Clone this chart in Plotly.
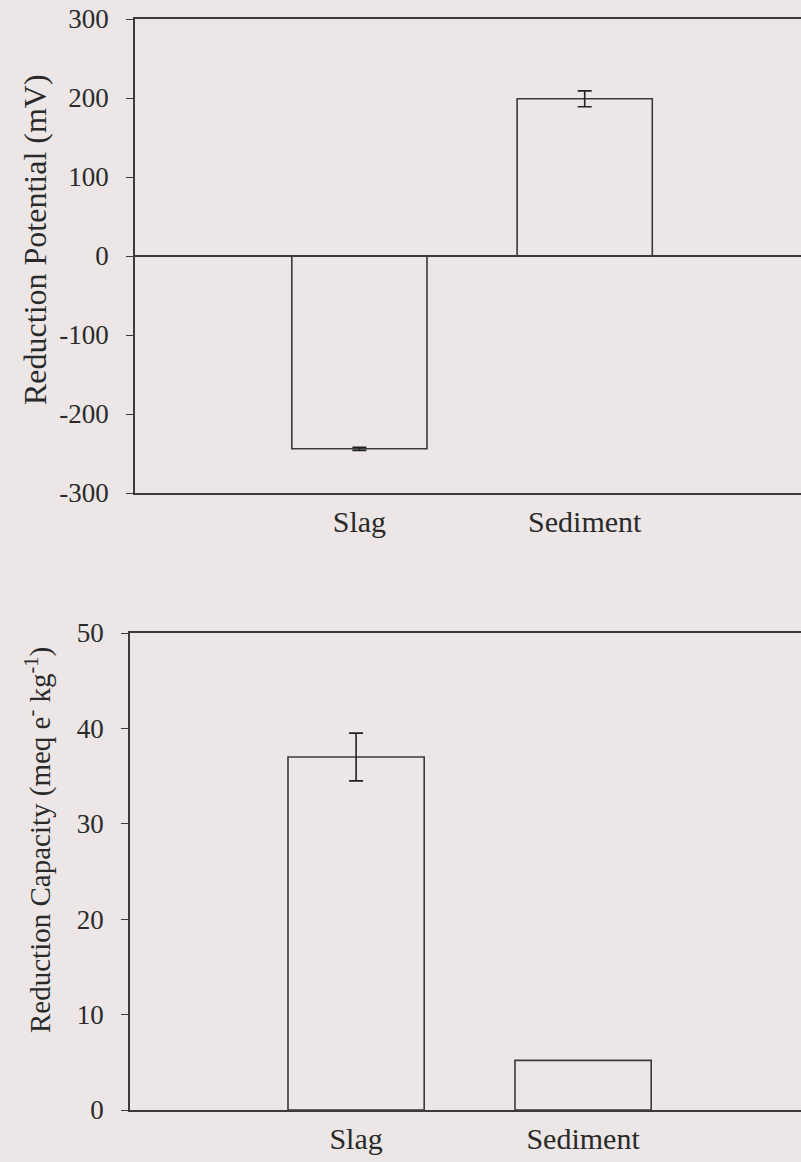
import plotly.graph_objects as go

categories = ["Slag", "Sediment"]
potential = [-244, 199]
potential_err = [2, 10]
capacity = [37.0, 5.2]
capacity_err = [2.5, None]

pot_ticks = [-300, -200, -100, 0, 100, 200, 300]
pot_ticktext = ["-300", "-200", "-100", "0", "100", "200", "300"]
cap_ticks = [0, 10, 20, 30, 40, 50]
pot_title = "Reduction Potential (mV)"
cap_title = "Reduction Capacity (meq e<sup>-</sup> kg<sup>-1</sup>)"

W, H = 801, 1162
bg = "#ece7e6"
line_c = "#3a3a3a"
fam = "Liberation Serif, Times New Roman, serif"
tick_font = dict(family=fam, size=27, color="#2a2a2a")
cat_font = dict(family=fam, size=30, color="#2a2a2a")

def py(px):
    return 1 - px / H

bar_marker = dict(color="rgba(0,0,0,0)", line=dict(color=line_c, width=1.6))

fig = go.Figure()

fig.add_trace(go.Bar(
    x=categories, y=potential, width=0.6, marker=bar_marker,
    error_y=dict(type="data", array=potential_err, color="#222", thickness=1.6, width=7),
    xaxis="x", yaxis="y", showlegend=False,
))
for cat, val, err in zip(categories, capacity, capacity_err):
    fig.add_trace(go.Bar(
        x=[cat], y=[val], width=0.6, marker=bar_marker,
        error_y=dict(type="data", array=[err if err is not None else 0], color="#222",
                     thickness=1.6, width=7, visible=err is not None),
        xaxis="x2", yaxis="y2", showlegend=False,
    ))

common_y = dict(showline=True, linecolor=line_c, linewidth=1.6, ticks="outside", ticklen=7,
                tickcolor=line_c, tickwidth=1.4, showgrid=False, automargin=False,
                ticklabelstandoff=12, tickfont=tick_font)
common_x = dict(range=[-0.996, 1.96], showline=True, mirror=True, linecolor=line_c,
                linewidth=1.6, ticks="", showgrid=False, automargin=False,
                tickfont=cat_font, ticklabelstandoff=1, categoryorder="array",
                categoryarray=categories)

fig.update_layout(
    width=W, height=H,
    margin=dict(l=0, r=0, t=0, b=0, autoexpand=False),
    paper_bgcolor=bg, plot_bgcolor=bg,
    font=tick_font,
    barmode="overlay",
    xaxis=dict(domain=[135 / W, 1], anchor="y", **common_x),
    yaxis=dict(domain=[py(493), py(19)], range=[-300, 300], tickvals=pot_ticks, ticktext=pot_ticktext,
               zeroline=True, zerolinecolor=line_c, zerolinewidth=1.6, anchor="x",
               **common_y),
    xaxis2=dict(domain=[130 / W, 1], anchor="y2", **common_x),
    yaxis2=dict(domain=[py(1110), py(633)], range=[0, 50], tickvals=cap_ticks,
                zeroline=False, anchor="x2",
                **common_y),
    annotations=[
        dict(text=pot_title, textangle=-90, xref="paper", yref="paper",
             x=35 / W, y=py(240), showarrow=False, xanchor="center", yanchor="middle",
             font=dict(family=fam, size=32, color="#2a2a2a")),
        dict(text=cap_title, textangle=-90, xref="paper", yref="paper",
             x=38 / W, y=py(840), showarrow=False, xanchor="center", yanchor="middle",
             font=dict(family=fam, size=29, color="#2a2a2a")),
    ],
)

fig.write_html("out.html")
